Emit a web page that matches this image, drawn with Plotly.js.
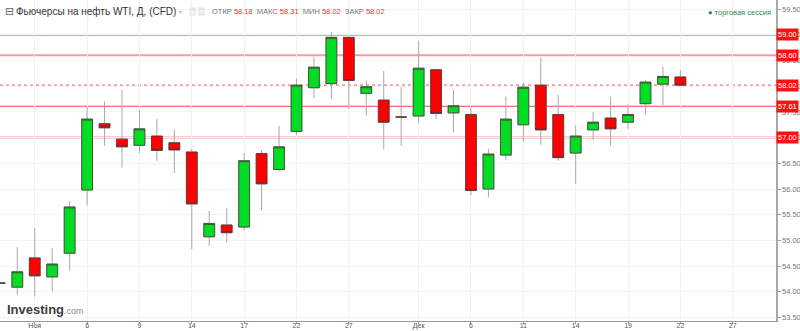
<!DOCTYPE html>
<html><head><meta charset="utf-8">
<script src="https://cdn.plot.ly/plotly-3.0.1.min.js"></script>
<style>html,body{margin:0;padding:0;background:#fff}#chart{width:800px;height:331px}</style>
</head><body><div id="chart"></div>
<script>
// Trading days (plus a few future days for the axis)
const dates = ['2017-10-30','2017-10-31','2017-11-01','2017-11-02','2017-11-03','2017-11-06','2017-11-07','2017-11-08','2017-11-09','2017-11-10',
  '2017-11-13','2017-11-14','2017-11-15','2017-11-16','2017-11-17','2017-11-20','2017-11-21','2017-11-22','2017-11-23','2017-11-24',
  '2017-11-27','2017-11-28','2017-11-29','2017-11-30','2017-12-01','2017-12-04','2017-12-05','2017-12-06','2017-12-07','2017-12-08',
  '2017-12-11','2017-12-12','2017-12-13','2017-12-14','2017-12-15','2017-12-18','2017-12-19','2017-12-20','2017-12-21','2017-12-22',
  '2017-12-25','2017-12-26','2017-12-27'];
const openP  = [54.17,54.09,54.66,54.29,54.75,55.98,57.27,56.97,56.85,57.03,56.90,56.72,55.07,55.30,55.26,56.69,56.38,57.12,57.97,58.05,
  58.95,57.86,57.73,57.40,57.42,58.32,57.48,57.45,56.00,56.66,57.25,58.02,57.45,56.70,57.15,57.38,57.30,57.66,58.04,58.18];
const highP  = [54.17,54.87,55.24,54.85,55.77,57.60,57.70,57.93,57.54,57.36,57.16,56.78,55.57,55.63,56.70,56.76,57.23,58.15,58.57,59.05,
  58.97,58.11,58.30,57.98,58.88,58.34,57.93,57.57,56.78,57.80,58.07,58.56,57.83,57.23,57.50,57.79,57.65,58.12,58.38,58.31];
const lowP   = [54.17,53.94,53.91,54.00,54.41,55.68,56.84,56.42,56.70,56.55,56.31,54.83,54.89,54.96,55.19,55.59,56.34,57.05,57.77,57.75,
  57.56,57.43,56.77,56.84,57.30,57.36,57.10,55.88,55.84,56.56,56.92,56.86,56.55,56.10,56.95,56.84,57.17,57.45,57.63,58.02];
const closeP = [54.17,54.39,54.31,54.54,55.65,57.36,57.19,56.82,57.17,56.75,56.76,55.71,55.33,55.15,56.55,56.10,56.82,58.02,58.37,58.95,
  58.11,57.99,57.30,57.40,58.35,57.47,57.62,55.97,56.68,57.36,57.98,57.15,56.61,57.03,57.30,57.17,57.45,58.08,58.19,58.02];
const tickDates = ['2017-11-01','2017-11-06','2017-11-09','2017-11-14','2017-11-17','2017-11-22','2017-11-27',
  '2017-12-01','2017-12-06','2017-12-11','2017-12-14','2017-12-19','2017-12-22','2017-12-27'];
const tickLabels = ['Ноя','6','9','14','17','22','27','Дек','6','11','14','19','22','27'];
const levels = [59.00, 58.60, 58.02, 57.61, 57.00];
const yTicks = [53.5,54.0,54.5,55.0,55.5,56.0,56.5,57.0,57.5,58.0,58.5,59.0,59.5];

const n = openP.length;
const xs = dates.slice(0, n).map((d, i) => i);
const tickvals = tickDates.map(d => dates.indexOf(d));
const bodyHigh = openP.map((o, i) => Math.max(o, closeP[i]));
const bodyLow = openP.map((o, i) => Math.min(o, closeP[i]));

const GREEN = '#00dd22', RED = '#ff0000', WICK = '#a8a8a8', EDGE = '#4a3a3a';

const traces = [
  { type: 'candlestick', x: xs, open: openP, high: highP, low: lowP, close: closeP,
    increasing: { line: { color: WICK, width: 1 }, fillcolor: WICK },
    decreasing: { line: { color: WICK, width: 1 }, fillcolor: WICK },
    whiskerwidth: 0, hoverinfo: 'skip', showlegend: false },
  { type: 'candlestick', x: xs, open: openP, high: bodyHigh, low: bodyLow, close: closeP,
    increasing: { line: { color: EDGE, width: 0.8 }, fillcolor: GREEN },
    decreasing: { line: { color: EDGE, width: 0.8 }, fillcolor: RED },
    whiskerwidth: 0, showlegend: false }
];

const W = 776, H = 321;
const px = v => v / W, py = v => 1 - v / H;

const lvlStyle = [
  { color: '#f03c3c', width: 1.3, dash: 'solid' },
  { color: '#f89a9a', width: 2, dash: 'solid' },
  { color: '#f5a0a0', width: 2, dash: 'dot' },
  { color: '#f04444', width: 1.2, dash: 'solid' },
  { color: '#f89a9a', width: 2, dash: 'solid' }
];
const shapes = levels.map((v, i) => ({
  type: 'line', xref: 'paper', yref: 'y', x0: 0, x1: 1, y0: v, y1: v, layer: 'between',
  line: lvlStyle[i]
}));

const annotations = levels.map(v => ({
  xref: 'paper', yref: 'y', x: 1, y: v, xanchor: 'left', yanchor: 'middle', showarrow: false,
  text: v.toFixed(2), bgcolor: '#ff1010', borderpad: 1,
  font: { family: 'Liberation Sans, Arial, sans-serif', size: 7.5, color: '#ffffff' }
}));

const f = (size, color) => ({ family: 'Liberation Sans, Arial, sans-serif', size: size, color: color });
annotations.push(
  { xref: 'paper', yref: 'paper', x: px(3), y: py(11.5), xanchor: 'left', yanchor: 'middle', showarrow: false,
    text: '⊟', font: { family: 'DejaVu Sans', size: 11, color: '#666' } },
  { xref: 'paper', yref: 'paper', x: px(14), y: py(11.5), xanchor: 'left', yanchor: 'middle', showarrow: false,
    text: 'Фьючерсы на нефть WTI, Д, (CFD)', font: f(10, '#333') },
  { xref: 'paper', yref: 'paper', x: px(177), y: py(11), xanchor: 'left', yanchor: 'middle', showarrow: false,
    text: '▾', font: { family: 'DejaVu Sans', size: 6, color: '#bbb' } },
  { xref: 'paper', yref: 'paper', x: px(189), y: py(11.5), xanchor: 'left', yanchor: 'middle', showarrow: false,
    text: '◉', bgcolor: '#e4e4e4', borderpad: 0, font: { family: 'DejaVu Sans', size: 6, color: '#fafafa' } },
  { xref: 'paper', yref: 'paper', x: px(198), y: py(11.5), xanchor: 'left', yanchor: 'middle', showarrow: false,
    text: '⚙', bgcolor: '#e4e4e4', borderpad: 0, font: { family: 'DejaVu Sans', size: 6, color: '#fafafa' } },
  { xref: 'paper', yref: 'paper', x: px(210), y: py(11.5), xanchor: 'left', yanchor: 'middle', showarrow: false,
    text: 'ОТКР <span style="color:#ff2a2a">' + openP[n-1].toFixed(2) + '</span>  МАКС <span style="color:#ff2a2a">' + highP[n-1].toFixed(2) +
      '</span>  МИН <span style="color:#ff2a2a">' + lowP[n-1].toFixed(2) + '</span>  ЗАКР <span style="color:#ff2a2a">' + closeP[n-1].toFixed(2) + '</span>',
    font: f(7.5, '#777') },
  { xref: 'paper', yref: 'paper', x: px(773), y: py(12), xanchor: 'right', yanchor: 'middle', showarrow: false,
    text: '<span style="color:#1e8a4a">●</span> торговая сессия', font: f(7.5, '#2a8a55') },
  { xref: 'paper', yref: 'paper', x: px(5), y: py(309), xanchor: 'left', yanchor: 'middle', showarrow: false,
    text: '<b>Investing</b><span style="font-size:9px;color:#8a8a8a">.com</span>', font: f(13, '#3c3c3c') }
);

const layout = {
  width: 800, height: 331,
  margin: { l: 0, r: 24, t: 0, b: 10, pad: 0 },
  paper_bgcolor: '#ffffff', plot_bgcolor: '#ffffff',
  showlegend: false, hovermode: false,
  boxgap: 0.38, boxgroupgap: 0, boxmode: 'overlay',
  xaxis: {
    type: 'linear', range: [0.009, 44.48], fixedrange: true,
    rangeslider: { visible: false },
    tickmode: 'array', tickvals: tickvals, ticktext: tickLabels,
    ticks: 'outside', ticklen: 2, tickcolor: '#999', ticklabelstandoff: -4,
    showline: true, linecolor: '#9a9a9a', linewidth: 1,
    showgrid: true, gridcolor: '#f1f1f1', gridwidth: 1, zeroline: false,
    tickfont: f(7, '#555'), automargin: false
  },
  yaxis: {
    side: 'right', range: [53.432, 59.677], fixedrange: true,
    tickmode: 'array', tickvals: yTicks, ticktext: yTicks.map(v => v.toFixed(2)),
    ticks: 'outside', ticklen: 3, tickcolor: '#999',
    showline: true, linecolor: '#a8a8a8', linewidth: 1.5,
    showgrid: true, gridcolor: '#f3f3f3', gridwidth: 1, zeroline: false,
    tickfont: f(7.5, '#777'), automargin: false
  },
  shapes: shapes,
  annotations: annotations
};

Plotly.newPlot('chart', traces, layout, { displayModeBar: false, staticPlot: true });
</script></body></html>
